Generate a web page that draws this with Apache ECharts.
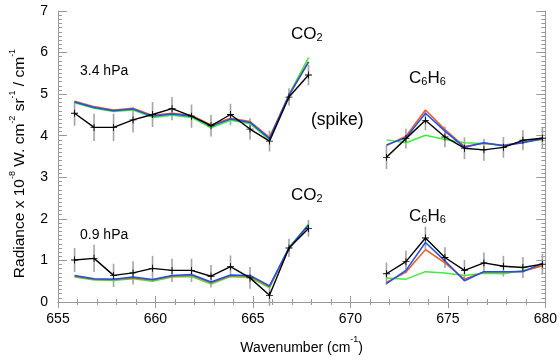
<!DOCTYPE html>
<html>
<head>
<meta charset="utf-8">
<script src="https://cdn.jsdelivr.net/npm/echarts@6/dist/echarts.min.js"></script>
<style>
html, body { margin: 0; padding: 0; background: #fff; }
#chart { width: 560px; height: 360px; }
</style>
</head>
<body>
<div id="chart"></div>
<script>
// wavenumbers (cm-1) of the two spectral windows
const waveCO2 = [655.85, 656.85, 657.85, 658.85, 659.85, 660.85, 661.85, 662.85, 663.85, 664.85, 665.85, 666.85, 667.85];
const waveC6H6 = [671.85, 672.85, 673.85, 674.85, 675.85, 676.85, 677.85, 678.85, 679.85];

// 3.4 hPa, CO2 window
const obs34CO2 = [4.54, 4.20, 4.20, 4.38, 4.51, 4.65, 4.47, 4.24, 4.51, 4.16, 3.87, 4.93, 5.46];
const err34CO2 = [0.30, 0.33, 0.33, 0.30, 0.30, 0.28, 0.28, 0.26, 0.26, 0.26, 0.25, 0.21, 0.25];
const blue34CO2 = [4.81, 4.68, 4.60, 4.64, 4.47, 4.52, 4.47, 4.23, 4.40, 4.32, 3.93, 4.97, 5.77];
const red34CO2 = [4.83, 4.70, 4.62, 4.66, 4.49, 4.54, 4.49, 4.26, 4.42, 4.34, 3.96, 4.98, 5.78];
const green34CO2 = [4.79, 4.66, 4.58, 4.62, 4.44, 4.49, 4.44, 4.19, 4.37, 4.29, 3.90, 4.99, 5.88];

// 3.4 hPa, C6H6 window
const obs34C6H6 = [3.48, 3.93, 4.37, 3.97, 3.70, 3.66, 3.72, 3.89, 3.94];
const err34C6H6 = [0.28, 0.24, 0.24, 0.25, 0.26, 0.26, 0.25, 0.24, 0.25];
const blue34C6H6 = [3.78, 3.95, 4.54, 4.11, 3.72, 3.83, 3.76, 3.83, 3.93];
const red34C6H6 = [3.76, 3.99, 4.62, 4.15, 3.74, 3.82, 3.77, 3.84, 3.92];
const green34C6H6 = [3.90, 3.83, 4.01, 3.91, 3.83, 3.81, 3.76, 3.85, 3.91];

// 0.9 hPa, CO2 window
const obs09CO2 = [1.01, 1.05, 0.64, 0.70, 0.81, 0.76, 0.76, 0.62, 0.85, 0.58, 0.16, 1.30, 1.77];
const err09CO2 = [0.29, 0.33, 0.28, 0.28, 0.30, 0.28, 0.28, 0.27, 0.27, 0.26, 0.25, 0.22, 0.20];
const blue09CO2 = [0.64, 0.56, 0.55, 0.60, 0.54, 0.64, 0.66, 0.48, 0.65, 0.64, 0.39, 1.30, 1.85];
const red09CO2 = [0.62, 0.55, 0.54, 0.58, 0.53, 0.62, 0.64, 0.46, 0.63, 0.62, 0.37, 1.29, 1.84];
const green09CO2 = [0.60, 0.53, 0.52, 0.56, 0.50, 0.60, 0.61, 0.43, 0.61, 0.59, 0.34, 1.31, 1.87];

// 0.9 hPa, C6H6 window
const obs09C6H6 = [0.68, 0.97, 1.54, 1.07, 0.76, 0.94, 0.86, 0.83, 0.91];
const err09C6H6 = [0.27, 0.27, 0.27, 0.25, 0.25, 0.25, 0.25, 0.25, 0.25];
const blue09C6H6 = [0.44, 0.76, 1.43, 0.99, 0.51, 0.73, 0.73, 0.73, 0.93];
const red09C6H6 = [0.47, 0.72, 1.26, 0.94, 0.55, 0.72, 0.72, 0.74, 0.87];
const green09C6H6 = [0.58, 0.55, 0.73, 0.70, 0.64, 0.69, 0.68, 0.76, 0.87];

const FONT = "Liberation Sans, Arial, Helvetica, sans-serif";
const plusSymbol = "path://M-0.12,-1H0.12V-0.12H1V0.12H0.12V1H-0.12V0.12H-1V-0.12H-0.12Z";

const groups = [
    {x: waveCO2, obs: obs34CO2, err: err34CO2, blue: blue34CO2, red: red34CO2, green: green34CO2},
    {x: waveC6H6, obs: obs34C6H6, err: err34C6H6, blue: blue34C6H6, red: red34C6H6, green: green34C6H6},
    {x: waveCO2, obs: obs09CO2, err: err09CO2, blue: blue09CO2, red: red09CO2, green: green09CO2},
    {x: waveC6H6, obs: obs09C6H6, err: err09C6H6, blue: blue09C6H6, red: red09C6H6, green: green09C6H6}
];

const pairs = (xs, ys) => xs.map((x, i) => [x, ys[i]]);

const series = [];
groups.forEach(g => {
    // grey error bars under the observed spectrum
    series.push({
        type: "custom",
        data: g.x.map((x, i) => [x, g.obs[i], g.err[i]]),
        encode: {x: 0, y: 1},
        z: 1,
        silent: true,
        renderItem: (params, api) => {
            const x = api.value(0), y = api.value(1), e = api.value(2);
            const lo = api.coord([x, y - e]);
            const hi = api.coord([x, y + e]);
            return {
                type: "line",
                shape: {x1: lo[0], y1: lo[1], x2: hi[0], y2: hi[1]},
                style: {stroke: "#a4a4a4", lineWidth: 1.6}
            };
        }
    });
    [["green", "#3cee3c"], ["red", "#f2571c"], ["blue", "#1e50f0"]].forEach(([key, color]) => {
        series.push({
            type: "line",
            data: pairs(g.x, g[key]),
            showSymbol: false,
            z: 2,
            lineStyle: {color: color, width: 1.5},
            itemStyle: {color: color}
        });
    });
    series.push({
        type: "line",
        data: pairs(g.x, g.obs),
        symbol: plusSymbol,
        symbolSize: 7,
        z: 3,
        lineStyle: {color: "#000", width: 1.4},
        itemStyle: {color: "#000"}
    });
});

const plainText = (text, size, left, top) => ({
    type: "text",
    left: left,
    top: top,
    style: {text: text, fill: "#000", font: size + "px " + FONT}
});

const molRich = {
    n: {fontSize: 17, fontFamily: FONT, color: "#000", lineHeight: 22, verticalAlign: "bottom"},
    s: {fontSize: 11, fontFamily: FONT, color: "#000", lineHeight: 11, verticalAlign: "bottom"}
};

const supRich = size => ({
    n: {fontSize: size, fontFamily: FONT, color: "#000", lineHeight: 20, verticalAlign: "bottom"},
    s: {fontSize: 9, fontFamily: FONT, color: "#000", lineHeight: 12, verticalAlign: "top"}
});

const boxAxis = {
    axisLine: {show: true, lineStyle: {color: "#999", width: 1}},
    splitLine: {show: false}
};

const chart = echarts.init(document.getElementById("chart"));
chart.setOption({
    animation: false,
    backgroundColor: "#fff",
    grid: {left: 52, right: 10, top: 11, bottom: 49},
    xAxis: [
        {
            ...boxAxis,
            type: "value",
            min: 655,
            max: 680,
            interval: 5,
            name: "{n|Wavenumber (cm}{s|-1}{n|)}",
            nameLocation: "middle",
            nameGap: 33,
            nameTextStyle: {rich: supRich(14)},
            axisTick: {inside: true, length: 6, lineStyle: {color: "#999"}},
            minorTick: {show: true, splitNumber: 5, length: 3, lineStyle: {color: "#999"}},
            axisLabel: {color: "#000", fontSize: 14, fontFamily: FONT, margin: 10}
        },
        {
            ...boxAxis,
            type: "value",
            position: "top",
            min: 655,
            max: 680,
            interval: 5,
            axisTick: {inside: true, length: 6, lineStyle: {color: "#999"}},
            minorTick: {show: true, splitNumber: 5, length: 3, lineStyle: {color: "#999"}},
            axisLabel: {show: false}
        }
    ],
    yAxis: [
        {
            ...boxAxis,
            type: "value",
            min: 0,
            max: 7,
            interval: 1,
            name: "{n|Radiance x 10}{s|-8}{n| W. cm}{s|-2}{n| sr}{s|-1}{n| / cm}{s|-1}",
            nameLocation: "middle",
            nameRotate: 90,
            nameGap: 30,
            nameTextStyle: {rich: supRich(15.5), padding: [0, 14, 0, 0]},
            axisTick: {show: true, inside: true, length: 9, lineStyle: {color: "#999"}},
            minorTick: {show: true, splitNumber: 10, length: 4, lineStyle: {color: "#999"}},
            axisLabel: {color: "#000", fontSize: 14, fontFamily: FONT, margin: 10}
        },
        {
            ...boxAxis,
            type: "value",
            position: "right",
            min: 0,
            max: 7,
            interval: 1,
            axisTick: {show: true, inside: true, length: 9, lineStyle: {color: "#999"}},
            minorTick: {show: true, splitNumber: 10, length: 4, lineStyle: {color: "#999"}},
            axisLabel: {show: false}
        }
    ],
    graphic: [
        plainText("3.4 hPa", 14, 80, 64),
        plainText("0.9 hPa", 14, 80, 228),
        plainText("(spike)", 17.5, 311, 111),
        {type: "text", left: 291, top: 26, style: {text: "{n|CO}{s|2}", rich: molRich}},
        {type: "text", left: 291, top: 187, style: {text: "{n|CO}{s|2}", rich: molRich}},
        {type: "text", left: 409, top: 70, style: {text: "{n|C}{s|6}{n|H}{s|6}", rich: molRich}},
        {type: "text", left: 409, top: 208, style: {text: "{n|C}{s|6}{n|H}{s|6}", rich: molRich}}
    ],
    series: series
});
</script>
</body>
</html>
